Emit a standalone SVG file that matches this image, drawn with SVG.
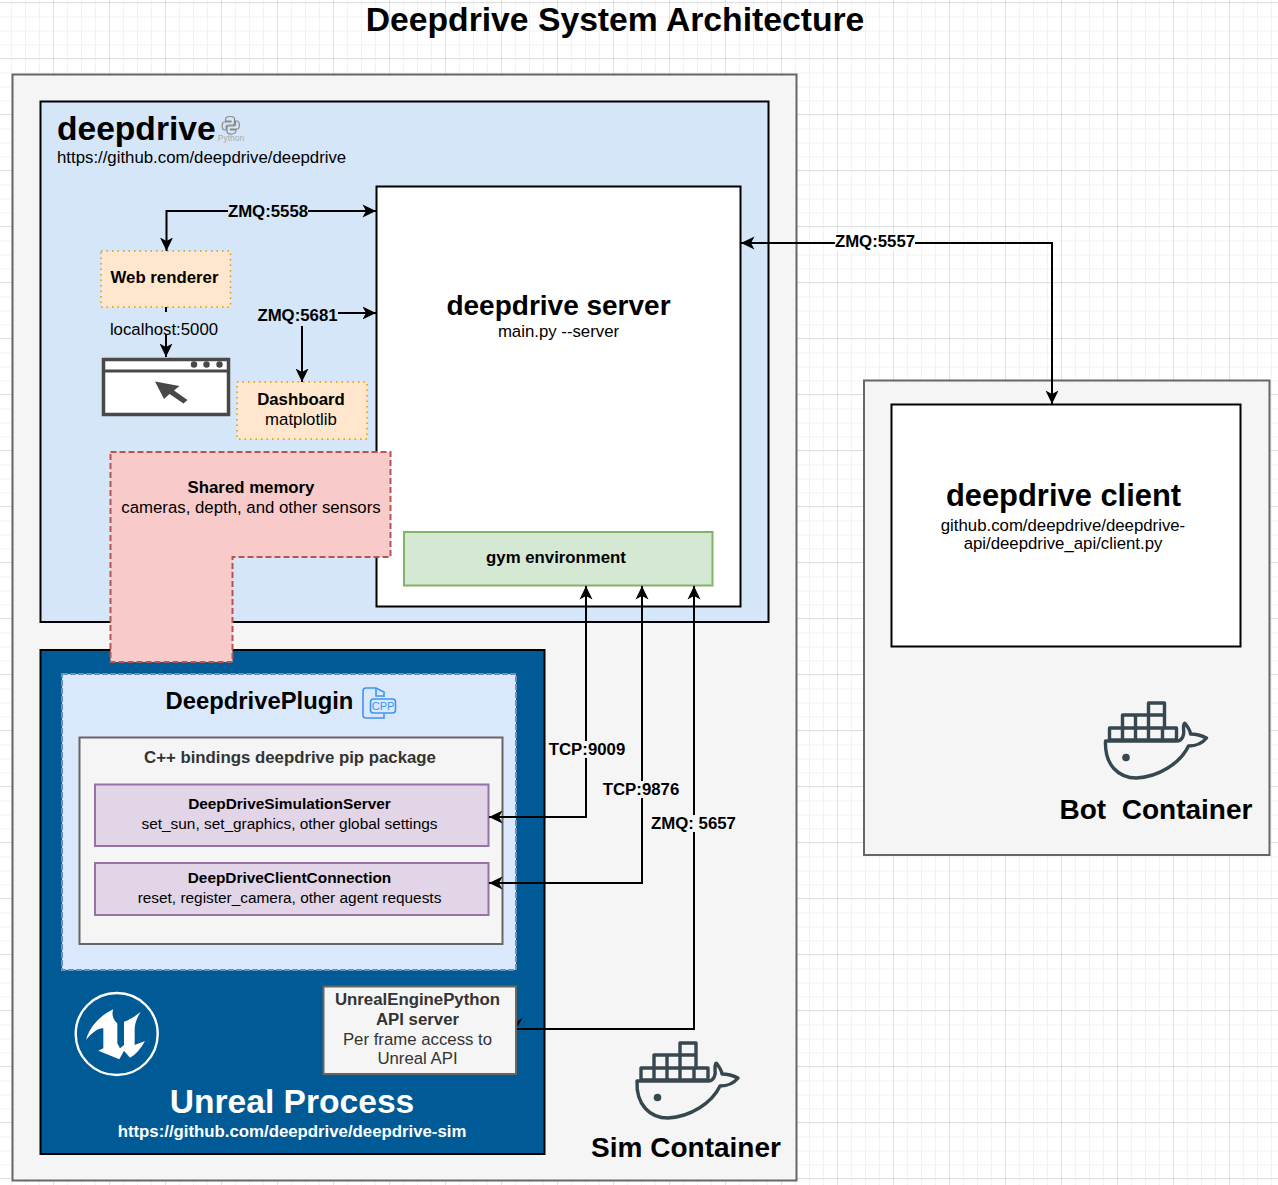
<svg xmlns="http://www.w3.org/2000/svg" xmlns:xlink="http://www.w3.org/1999/xlink" width="1278" height="1185" viewBox="0 0 1278 1185">
<style>
text{font-family:"Liberation Sans",Arial,sans-serif;fill:#000;text-anchor:middle}
.b{font-weight:bold}
.l{text-anchor:start}
.dk{fill:#333}
.w{fill:#fff}
.con{fill:none;stroke:#000;stroke-width:2}
.icon{fill:none;stroke:#37474f;stroke-width:3.4;stroke-linejoin:round;stroke-linecap:round}
</style>
<defs>
<pattern id="minor" width="14" height="14" patternUnits="userSpaceOnUse" x="11" y="2.5">
<path d="M0 .5H14M.5 0V14" fill="none" stroke="#f2f2f2" stroke-width="1"/>
</pattern>
<pattern id="major" width="56" height="56" patternUnits="userSpaceOnUse" x="53" y="2">
<path d="M0 .5H56M.5 0V56" fill="none" stroke="#e0e0e0" stroke-width="1"/>
</pattern>
<marker id="end" markerWidth="15" markerHeight="15" refX="13.500" refY="7" orient="auto" markerUnits="userSpaceOnUse">
<path d="M0 .5L13.500 7L0 13.500L3.500 7Z" fill="#000"/>
</marker>
<marker id="start" markerWidth="15" markerHeight="15" refX="0.500" refY="7" orient="auto" markerUnits="userSpaceOnUse">
<path d="M14 .5L.5 7L14 13.500L10.500 7Z" fill="#000"/>
</marker>
<g id="whale">
<path class="icon" d="M641 1080V1068H654V1055H680V1043H696V1055V1068H708V1080M654 1068H696M641 1080H708M654 1068V1080M667 1055V1080M680 1055V1080M694 1068V1080M654 1055H696"/>
<path class="icon" d="M637 1081H708C714 1081 716 1075 715 1069C715 1064 716 1062 717 1064C720 1068 722 1071 722 1074C728 1074 734 1076 738 1078C734 1083 727 1086 720 1086C712 1103 690 1117 668 1118C650 1118 636 1105 637 1081Z"/>
<circle cx="657.500" cy="1097.500" r="3.800" fill="#37474f"/>
</g>
</defs>
<rect id="grid-minor" width="1278" height="1185" fill="url(#minor)"/>
<rect id="grid-major" width="1278" height="1185" fill="url(#major)"/>
<text id="title" x="615" y="31" class="b" font-size="33.700">Deepdrive System Architecture</text>

<g id="sim-container">
<rect x="12.500" y="74.500" width="784" height="1106" fill="#f5f5f5" stroke="#666" stroke-width="2"/>
<use xlink:href="#whale" href="#whale"/>
<text x="686" y="1157" class="b" font-size="28">Sim Container</text>
</g>
<g id="bot-container">
<rect x="864" y="380.500" width="405.500" height="474.500" fill="#f5f5f5" stroke="#666" stroke-width="2"/>
<use xlink:href="#whale" href="#whale" x="468.500" y="-340"/>
<text x="1156" y="819" class="b" font-size="28" xml:space="preserve">Bot  Container</text>
</g>
<g id="deepdrive">
<rect x="40.500" y="101.500" width="728" height="520.500" fill="#d5e6f9" stroke="#000" stroke-width="2"/>
<text x="57" y="140" class="b l" font-size="33.600">deepdrive</text>
<text x="57" y="163" class="l" font-size="16.800">https://github.com/deepdrive/deepdrive</text>
<g fill="none" stroke="#888" stroke-width="1.200" transform="translate(-.5 0)">
<path d="M231 116.500C226 116.500 226 118 226 121H231.500V122H224.500C222 122 222 130 225 130H226.500V127C226.500 125.500 228 125 229 125H233C234.500 125 235 124 235 123V119C235 117 233 116.500 231 116.500Z"/>
<path d="M231.500 134C236 134 236.500 132.500 236.500 130H231V129H238C240.500 129 240.500 121 237.500 121H236V124C236 125.500 235 126 233.500 126H229.500C228 126 227.500 127 227.500 128V131.500C227.500 133.500 229.500 134 231.500 134Z"/>
</g>
<text x="231" y="141" font-size="8.500" style="fill:#aaa">Python</text>
</g>
<g id="server">
<rect x="376.500" y="186.500" width="364" height="420" fill="#fff" stroke="#000" stroke-width="2"/>
<text x="558.500" y="315" class="b" font-size="28">deepdrive server</text>
<text x="558.500" y="337" font-size="16.800">main.py --server</text>
</g>
<g id="gym">
<rect x="404" y="532" width="308.500" height="53.500" fill="#d5e8d4" stroke="#82b366" stroke-width="2"/>
<text x="556" y="563" class="b" font-size="16.800">gym environment</text>
</g>
<g id="web-renderer">
<rect x="101" y="251" width="129.500" height="56" fill="#ffe6cc" stroke="#d79b00" stroke-width="1.500" stroke-dasharray="1.500 4"/>
<text x="164.500" y="283" class="b" font-size="16.800">Web renderer</text>
</g>
<g id="browser">
<rect x="103.500" y="359.500" width="125" height="55" fill="#fff" stroke="#484848" stroke-width="3.500"/>
<path d="M103.500 371H228.500" stroke="#484848" stroke-width="3" fill="none"/>
<circle cx="194" cy="364.500" r="3.200" fill="#484848"/>
<circle cx="206.500" cy="364.500" r="3.200" fill="#484848"/>
<circle cx="219.500" cy="364.500" r="3.200" fill="#484848"/>
<path d="M155 381.500L179.500 386L174 390.500L187.500 400L183.500 403.500L169.500 394L164 399Z" fill="#484848"/>
</g>
<g id="dashboard">
<rect x="237" y="382" width="130" height="57" fill="#ffe6cc" stroke="#d79b00" stroke-width="1.500" stroke-dasharray="1.500 4"/>
<text x="301" y="405" class="b" font-size="16.800">Dashboard</text>
<text x="301" y="425" font-size="16.800">matplotlib</text>
</g>
<g id="unreal">
<rect x="40.500" y="650" width="504" height="504" fill="#005a96" stroke="#000" stroke-width="2"/>
<circle cx="116.700" cy="1034" r="41" fill="none" stroke="#fff" stroke-width="2.400"/>
<path transform="translate(40 980) scale(.3333)" fill="#fff" d="M138 180C150 135 185 105 220 88C212 108 225 125 232 130L232 190L240 205L252 195L252 125C270 120 290 105 302 95C288 118 284 135 284 150L284 195L315 183C300 210 285 225 270 233L252 212L238 238L175 212L190 205L190 145C170 145 150 165 138 180Z"/>
<text x="292" y="1113" class="b w" font-size="33.600">Unreal Process</text>
<text x="292" y="1137" class="b w" font-size="16.800">https://github.com/deepdrive/deepdrive-sim</text>
</g>
<g id="plugin">
<rect x="62" y="674" width="454" height="296" fill="#dae8fc" stroke="#6c8ebf" stroke-width="2" stroke-dasharray="6 2"/>
<text x="259.500" y="709" class="b" font-size="23.800">DeepdrivePlugin</text>
<g fill="none" stroke="#3d94f6" stroke-width="1.600">
<path d="M384 697V692L376 688H366Q363 688 363 691V715Q363 718 366 718H384V714"/>
<path d="M376 688V696H384"/>
<rect x="370.500" y="699" width="25" height="14" rx="3"/>
</g>
<text x="383" y="710" font-size="11" style="fill:#3d94f6">CPP</text>
</g>
<g id="bindings">
<rect x="79.500" y="737.500" width="423" height="206.500" fill="#f5f5f5" stroke="#666" stroke-width="2"/>
<text x="290" y="763" class="b dk" font-size="16.800">C++ bindings deepdrive pip package</text>
</g>
<g id="sim-server">
<rect x="95" y="784.500" width="393.500" height="61.500" fill="#e1d5e7" stroke="#9673a6" stroke-width="2"/>
<text x="289.500" y="809" class="b" font-size="15.400">DeepDriveSimulationServer</text>
<text x="289.500" y="829" font-size="15.400">set_sun, set_graphics, other global settings</text>
</g>
<g id="client-connection">
<rect x="95" y="863" width="393.500" height="52" fill="#e1d5e7" stroke="#9673a6" stroke-width="2"/>
<text x="289.500" y="883" class="b" font-size="15.400">DeepDriveClientConnection</text>
<text x="289.500" y="903" font-size="15.400">reset, register_camera, other agent requests</text>
</g>
<g id="ue-python">
<rect x="323.500" y="986.500" width="192.500" height="87.500" fill="#f5f5f5" stroke="#666" stroke-width="2"/>
<text x="417.500" y="1005" class="b dk" font-size="16.800">UnrealEnginePython</text>
<text x="417.500" y="1025" class="b dk" font-size="16.800">API server</text>
<text x="417.500" y="1045" class="dk" font-size="16.800">Per frame access to</text>
<text x="417.500" y="1064" class="dk" font-size="16.800">Unreal API</text>
</g>
<g id="client">
<rect x="891.500" y="404.500" width="349" height="242" fill="#fff" stroke="#000" stroke-width="2"/>
<text x="1063.500" y="506" class="b" font-size="30.900">deepdrive client</text>
<text x="1063" y="531" font-size="16.800">github.com/deepdrive/deepdrive-</text>
<text x="1063" y="549" font-size="16.800">api/deepdrive_api/client.py</text>
</g>
<g id="connectors">
<path class="con" d="M376 211H166.500V251" marker-start="url(#start)" marker-end="url(#end)"/>
<path class="con" d="M166 307V357" marker-end="url(#end)"/>
<path class="con" d="M338 313H376" marker-end="url(#end)"/>
<path class="con" d="M302 326V382" marker-end="url(#end)"/>
<path class="con" d="M741 243H1052V404" marker-start="url(#start)" marker-end="url(#end)"/>
<path class="con" d="M586 586V817H489" marker-start="url(#start)" marker-end="url(#end)"/>
<path class="con" d="M642 586V883H489" marker-start="url(#start)" marker-end="url(#end)"/>
<path class="con" d="M694 586V1029H517" marker-start="url(#start)"/>
<path d="M517.500 1027L522.500 1018L517.500 1021Z" fill="#000"/>
<g class="b" font-size="16.800">
<rect x="228" y="203" width="80" height="17" fill="#d5e6f9"/>
<text x="268" y="217">ZMQ:5558</text>
<text x="297.500" y="321">ZMQ:5681</text>
<rect x="835" y="234" width="80" height="17" fill="#fff"/>
<text x="875" y="247">ZMQ:5557</text>
<rect x="549" y="741" width="76" height="17" fill="#f5f5f5"/>
<text x="587" y="755">TCP:9009</text>
<rect x="603" y="781" width="76" height="17" fill="#f5f5f5"/>
<text x="641" y="795">TCP:9876</text>
<rect x="651" y="815" width="85" height="17" fill="#f5f5f5"/>
<text x="693.500" y="829">ZMQ: 5657</text>
</g>
<rect x="109" y="312" width="110" height="22" fill="#d5e6f9"/>
<path class="con" d="M166 334V340"/>
<text x="164" y="335" font-size="16.800">localhost:5000</text>
</g>
<g id="shared-memory">
<path d="M110.500 452H390.500V557H232.500V662H110.500Z" fill="#f8caca" stroke="#b85450" stroke-width="2" stroke-dasharray="6 3"/>
<text x="251" y="493" class="b" font-size="16.800">Shared memory</text>
<text x="251" y="513" font-size="16.800">cameras, depth, and other sensors</text>
</g>
</svg>
